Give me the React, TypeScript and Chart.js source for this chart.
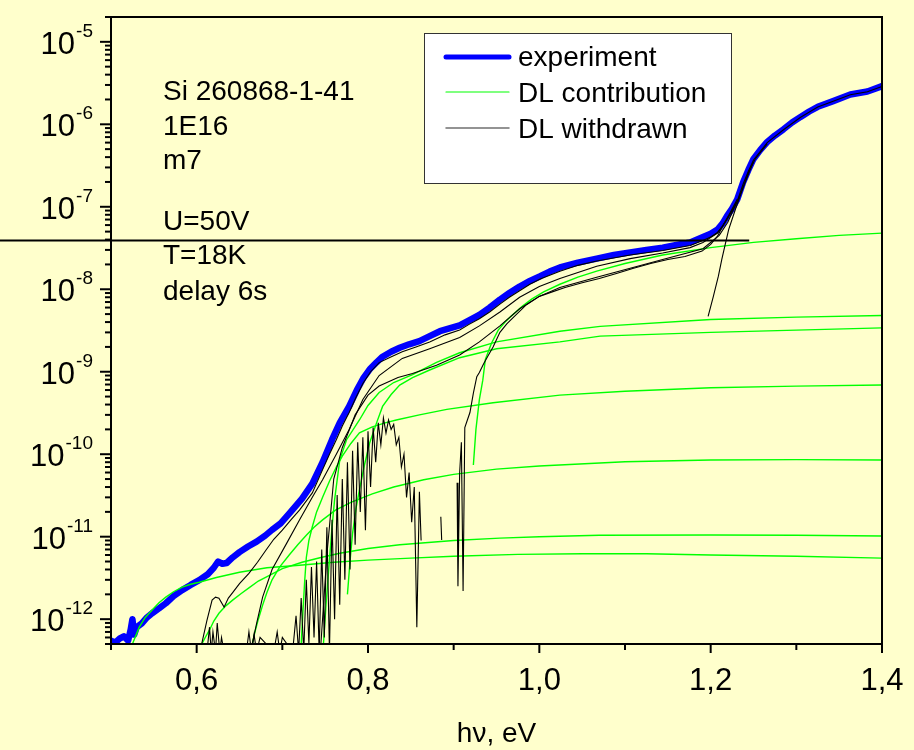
import { useEffect, useRef } from "react";
import { Chart, registerables } from "chart.js";

Chart.register(...registerables);

const FONT = "'Liberation Sans', Arial, Helvetica, sans-serif";
const BG = "#FFFFCC";

const X_MIN = 0.5;
const X_MAX = 1.4;
const Y_MIN = 5e-13;
const Y_MAX = 2e-5;

const xMajorTicks = [0.6, 0.8, 1.0, 1.2, 1.4];
const xMinorTicks = [0.5, 0.7, 0.9, 1.1, 1.3];
const xTickLabels = ["0,6", "0,8", "1,0", "1,2", "1,4"];
const yExponents = [-5, -6, -7, -8, -9, -10, -11, -12];
const xTitle = "h\u03BD, eV";

const notes = ["Si 260868-1-41", "1E16", "m7", "U=50V", "T=18K", "delay 6s"];
const legendLabels = ["experiment", "DL contribution", "DL withdrawn"];

// experiment
const expX = [0.500, 0.505, 0.510, 0.515, 0.520, 0.523, 0.525, 0.527, 0.530, 0.536, 0.542, 0.548, 0.556, 0.564, 0.573, 0.583, 0.593, 0.603, 0.613, 0.620, 0.625, 0.630, 0.635, 0.642, 0.650, 0.660, 0.670, 0.680, 0.688, 0.698, 0.708, 0.723, 0.735, 0.747, 0.758, 0.767, 0.778, 0.787, 0.795, 0.802, 0.810, 0.817, 0.827, 0.837, 0.848, 0.860, 0.872, 0.884, 0.895, 0.907, 0.918, 0.930, 0.942, 0.954, 0.965, 0.977, 0.989, 1.001, 1.012, 1.024, 1.045, 1.067, 1.087, 1.106, 1.125, 1.144, 1.160, 1.176, 1.191, 1.200, 1.208, 1.214, 1.219, 1.225, 1.231, 1.238, 1.244, 1.250, 1.258, 1.266, 1.275, 1.285, 1.295, 1.305, 1.315, 1.325, 1.343, 1.363, 1.383, 1.400];
const expY = [5.5e-13, 5.2e-13, 5.8e-13, 6.2e-13, 5.5e-13, 7.5e-13, 1.0e-12, 6.5e-13, 8.0e-13, 8.9e-13, 1.05e-12, 1.18e-12, 1.35e-12, 1.56e-12, 1.9e-12, 2.25e-12, 2.6e-12, 2.97e-12, 3.5e-12, 4.2e-12, 5.0e-12, 4.7e-12, 4.8e-12, 5.6e-12, 6.5e-12, 7.6e-12, 8.7e-12, 1.03e-11, 1.21e-11, 1.45e-11, 1.9e-11, 2.9e-11, 4.4e-11, 8.0e-11, 1.5e-10, 2.4e-10, 3.8e-10, 6.0e-10, 8.5e-10, 1.07e-9, 1.3e-9, 1.52e-9, 1.75e-9, 1.95e-9, 2.15e-9, 2.35e-9, 2.7e-9, 3.1e-9, 3.35e-9, 3.65e-9, 4.2e-9, 4.9e-9, 6.0e-9, 7.5e-9, 9.0e-9, 1.08e-8, 1.26e-8, 1.44e-8, 1.64e-8, 1.84e-8, 2.1e-8, 2.35e-8, 2.6e-8, 2.8e-8, 3.0e-8, 3.2e-8, 3.45e-8, 3.7e-8, 4.3e-8, 4.7e-8, 5.3e-8, 6.3e-8, 7.7e-8, 9.5e-8, 1.23e-7, 2.0e-7, 2.8e-7, 3.8e-7, 4.9e-7, 6.1e-7, 7.3e-7, 8.7e-7, 1.05e-6, 1.23e-6, 1.43e-6, 1.63e-6, 1.91e-6, 2.3e-6, 2.5e-6, 2.9e-6];

// DL contributions (green)
const g1X = [0.923, 0.926, 0.930, 0.934, 0.937, 0.944, 0.952, 0.960, 0.967, 0.980, 0.991, 1.005, 1.024, 1.045, 1.067, 1.100, 1.144, 1.200, 1.250, 1.300, 1.350, 1.400];
const g1Y = [7.4e-11, 2.0e-10, 4.6e-10, 7.9e-10, 1.41e-9, 2.2e-9, 3.2e-9, 4.0e-9, 4.7e-9, 6.2e-9, 7.6e-9, 9.3e-9, 1.15e-8, 1.4e-8, 1.66e-8, 2.05e-8, 2.6e-8, 3.2e-8, 3.7e-8, 4.1e-8, 4.5e-8, 4.8e-8];
const g2X = [0.748, 0.751, 0.755, 0.758, 0.761, 0.767, 0.775, 0.790, 0.800, 0.813, 0.830, 0.852, 0.880, 0.907, 0.950, 1.024, 1.071, 1.200, 1.300, 1.400];
const g2Y = [5e-13, 1.5e-12, 5.2e-12, 1.3e-11, 2.8e-11, 8.5e-11, 1.5e-10, 2.6e-10, 3.9e-10, 5.6e-10, 7.4e-10, 9.2e-10, 1.3e-9, 1.7e-9, 2.3e-9, 3.1e-9, 3.55e-9, 4.3e-9, 4.6e-9, 4.8e-9];
const g3X = [0.776, 0.779, 0.782, 0.786, 0.790, 0.796, 0.802, 0.810, 0.817, 0.827, 0.837, 0.852, 0.872, 0.907, 0.950, 1.024, 1.071, 1.200, 1.300, 1.400];
const g3Y = [2e-12, 5e-12, 1.1e-11, 2.2e-11, 3.7e-11, 7.5e-11, 1.38e-10, 2.4e-10, 3.8e-10, 5.3e-10, 6.9e-10, 8.5e-10, 1.05e-9, 1.48e-9, 1.9e-9, 2.3e-9, 2.7e-9, 3.0e-9, 3.2e-9, 3.4e-9];
const g4X = [0.722, 0.724, 0.726, 0.728, 0.731, 0.735, 0.740, 0.747, 0.755, 0.763, 0.770, 0.780, 0.790, 0.805, 0.820, 0.833, 0.860, 0.892, 0.946, 1.024, 1.100, 1.200, 1.300, 1.400];
const g4Y = [5e-13, 1.2e-12, 2.8e-12, 5.6e-12, 9e-12, 1.32e-11, 2.0e-11, 3.0e-11, 4.7e-11, 7.0e-11, 9.5e-11, 1.35e-10, 1.82e-10, 2.15e-10, 2.4e-10, 2.6e-10, 3.0e-10, 3.5e-10, 4.2e-10, 5.2e-10, 5.8e-10, 6.4e-10, 6.7e-10, 6.9e-10];
const g5X = [0.665, 0.668, 0.672, 0.677, 0.682, 0.688, 0.697, 0.708, 0.718, 0.728, 0.737, 0.747, 0.762, 0.780, 0.805, 0.830, 0.865, 0.900, 0.950, 1.000, 1.100, 1.200, 1.300, 1.400];
const g5Y = [5e-13, 7e-13, 1.0e-12, 1.48e-12, 2.1e-12, 3.0e-12, 4.3e-12, 6.0e-12, 8.0e-12, 1.04e-11, 1.3e-11, 1.6e-11, 2.1e-11, 2.6e-11, 3.3e-11, 4.0e-11, 4.9e-11, 5.7e-11, 6.6e-11, 7.2e-11, 8.1e-11, 8.5e-11, 8.6e-11, 8.5e-11];
const g6X = [0.606, 0.610, 0.615, 0.620, 0.626, 0.634, 0.642, 0.652, 0.661, 0.672, 0.685, 0.700, 0.723, 0.745, 0.767, 0.800, 0.837, 0.900, 0.954, 1.000, 1.070, 1.200, 1.300, 1.400];
const g6Y = [5e-13, 6e-13, 7.4e-13, 9.5e-13, 1.18e-12, 1.45e-12, 1.7e-12, 2.05e-12, 2.4e-12, 2.9e-12, 3.4e-12, 4.1e-12, 4.9e-12, 5.6e-12, 6.3e-12, 7.2e-12, 8.0e-12, 9.0e-12, 9.6e-12, 1.0e-11, 1.04e-11, 1.05e-11, 1.04e-11, 1.02e-11];
const g7X = [0.525, 0.533, 0.540, 0.548, 0.556, 0.564, 0.573, 0.583, 0.593, 0.603, 0.623, 0.650, 0.682, 0.720, 0.760, 0.800, 0.850, 0.900, 0.975, 1.050, 1.125, 1.200, 1.300, 1.400];
const g7Y = [5e-13, 8e-13, 1.05e-12, 1.29e-12, 1.58e-12, 1.85e-12, 2.15e-12, 2.45e-12, 2.65e-12, 2.8e-12, 3.2e-12, 3.7e-12, 4.2e-12, 4.5e-12, 4.9e-12, 5.2e-12, 5.5e-12, 5.8e-12, 6.1e-12, 6.2e-12, 6.2e-12, 6.0e-12, 5.8e-12, 5.5e-12];

// DL withdrawn (black)
const w1X = [0.606, 0.612, 0.618, 0.622, 0.626, 0.632, 0.637, 0.642, 0.650, 0.661, 0.671, 0.681, 0.690, 0.700, 0.710, 0.720, 0.735, 0.747, 0.755, 0.763, 0.770, 0.778, 0.786, 0.794, 0.803, 0.813, 0.826, 0.840, 0.856, 0.872, 0.890, 0.907, 0.918, 0.930, 0.942, 0.954, 0.965, 0.977, 0.989, 1.001, 1.024, 1.045, 1.067, 1.106, 1.144, 1.176, 1.191, 1.200, 1.208, 1.214, 1.219, 1.225, 1.231, 1.238, 1.244, 1.250, 1.266, 1.285, 1.305, 1.325, 1.343, 1.363, 1.383, 1.400];
const w1Y = [5.1e-13, 9.7e-13, 1.7e-12, 1.85e-12, 1.8e-12, 1.4e-12, 1.8e-12, 2.1e-12, 2.7e-12, 3.6e-12, 4.9e-12, 6.9e-12, 9.3e-12, 1.2e-11, 1.6e-11, 2.1e-11, 3.4e-11, 6.5e-11, 1.0e-10, 1.5e-10, 2.2e-10, 3.2e-10, 4.9e-10, 7.2e-10, 1.0e-9, 1.29e-9, 1.5e-9, 1.75e-9, 2.0e-9, 2.3e-9, 2.8e-9, 3.2e-9, 3.75e-9, 4.4e-9, 5.3e-9, 6.6e-9, 8.0e-9, 9.6e-9, 1.15e-8, 1.33e-8, 1.65e-8, 1.95e-8, 2.2e-8, 2.6e-8, 2.95e-8, 3.4e-8, 3.9e-8, 4.3e-8, 4.9e-8, 5.8e-8, 7.1e-8, 9.0e-8, 1.17e-7, 1.9e-7, 2.7e-7, 3.7e-7, 6.0e-7, 8.6e-7, 1.22e-6, 1.62e-6, 1.9e-6, 2.28e-6, 2.48e-6, 2.88e-6];
const w2X = [0.665, 0.670, 0.677, 0.688, 0.705, 0.720, 0.735, 0.747, 0.763, 0.778, 0.794, 0.813, 0.840, 0.872, 0.907, 0.930, 0.954, 0.977, 1.000, 1.024, 1.067, 1.106, 1.144, 1.176, 1.191, 1.208, 1.219, 1.231, 1.250];
const w2Y = [5.1e-13, 8.9e-13, 1.85e-12, 4.0e-12, 8.3e-12, 1.59e-11, 3.0e-11, 4.9e-11, 1.0e-10, 2.0e-10, 4.6e-10, 9.0e-10, 1.45e-9, 1.9e-9, 2.6e-9, 3.6e-9, 5.3e-9, 8.0e-9, 1.08e-8, 1.35e-8, 1.9e-8, 2.35e-8, 2.75e-8, 3.2e-8, 3.7e-8, 4.8e-8, 7.0e-8, 1.15e-7, 3.5e-7];
const w3X = [0.745, 0.752, 0.760, 0.770, 0.785, 0.800, 0.813, 0.835, 0.852, 0.880, 0.907, 0.930, 0.954, 0.977, 1.000, 1.024, 1.067, 1.144, 1.191, 1.210, 1.220, 1.230];
const w3Y = [5e-13, 6e-12, 5e-11, 1.2e-10, 3.0e-10, 5.2e-10, 6.7e-10, 8.5e-10, 9.5e-10, 1.2e-9, 1.6e-9, 2.3e-9, 3.6e-9, 5.8e-9, 8.2e-9, 1.05e-8, 1.4e-8, 2.3e-8, 3.1e-8, 4.5e-8, 6.5e-8, 1.1e-7];
const w4X = [0.612, 0.615, 0.617, 0.619, 0.622, 0.624, 0.627, 0.629, 0.632, 0.658, 0.661, 0.664, 0.667, 0.670, 0.674, 0.690, 0.694, 0.697, 0.700, 0.712, 0.716, 0.719, 0.722, 0.725, 0.728, 0.731, 0.734, 0.737, 0.740, 0.743, 0.746, 0.749, 0.752, 0.755, 0.758, 0.761, 0.764, 0.767, 0.770, 0.773, 0.776, 0.779, 0.782, 0.785, 0.788, 0.791, 0.794, 0.797, 0.800, 0.803, 0.806, 0.809, 0.812, 0.815, 0.818, 0.821, 0.824, 0.827, 0.830, 0.833, 0.836, 0.839, 0.842, 0.845, 0.848, 0.851, 0.854, 0.857, 0.860, 0.862, 0.870, 0.885, 0.886, 0.890, 0.904, 0.905, 0.907, 0.909, 0.911, 0.913, 0.916, 0.919, 0.923, 0.927, 0.930, 0.935, 0.940, 0.946, 0.954, 0.962, 0.970, 0.985, 1.000, 1.015, 1.030, 1.050, 1.070, 1.090, 1.110, 1.130, 1.150, 1.170, 1.190, 1.200, 1.208, 1.215, 1.223, 1.231];
const w4Y = [4e-13, 8e-13, 4e-13, 7e-13, 4e-13, 9e-13, 4e-13, 6e-13, 4e-13, 4e-13, 7e-13, 4e-13, 6.5e-13, 4e-13, 6e-13, 4e-13, 7e-13, 4e-13, 6e-13, 4e-13, 1.1e-12, 4e-13, 1.8e-12, 4e-13, 3e-12, 5e-13, 4.3e-12, 6e-13, 5e-12, 4e-13, 7e-12, 6e-13, 1.3e-11, 4e-13, 1.6e-11, 1e-12, 3.2e-11, 1.5e-12, 5e-11, 3e-12, 8e-11, 4e-12, 1.1e-10, 8e-12, 1.4e-10, 2e-11, 1.6e-10, 1.2e-11, 1.9e-10, 4e-11, 2.1e-10, 8e-11, 2.4e-10, 1.3e-10, 2.75e-10, 1.8e-10, 2.6e-10, 2.0e-10, 2.3e-10, 1.3e-10, 1.6e-10, 7e-11, 1.0e-10, 3e-11, 6e-11, 1.5e-11, 4e-11, 8e-13, 3.5e-11, 9e-12, null, 1.74e-11, 9.1e-12, null, 4.5e-11, 2.5e-12, 6e-11, 1.4e-10, 2.2e-12, 2.1e-10, 2.6e-10, 3.2e-10, 5.5e-10, 8.7e-10, 9.8e-10, 1.25e-9, 1.55e-9, 2.0e-9, 3.0e-9, 3.8e-9, 4.6e-9, 6.5e-9, 8.2e-9, 9.3e-9, 1.05e-8, 1.2e-8, 1.35e-8, 1.55e-8, 1.8e-8, 2.05e-8, 2.3e-8, 2.5e-8, 2.9e-8, 3.5e-8, 4.4e-8, 6.1e-8, 8.6e-8, 1.23e-7];
const w5X = [1.197, 1.203, 1.209, 1.213, 1.217, 1.221, 1.229, 1.236, 1.244, 1.252, 1.266];
const w5Y = [4.7e-9, 8.1e-9, 1.44e-8, 2.3e-8, 3.5e-8, 5.3e-8, 9.4e-8, 1.5e-7, 2.6e-7, 3.8e-7, 5.8e-7];

// horizontal marker line
const markX = [0.37, 1.245];
const markY = [3.9e-8, 3.9e-8];

const pts = (xs: number[], ys: (number | null)[]) => xs.map((x, i) => ({ x, y: ys[i] }));

const decorPlugin = {
  id: "decor",
  beforeDraw(chart: any) {
    const ctx = chart.ctx;
    ctx.save();
    ctx.fillStyle = BG;
    ctx.fillRect(0, 0, chart.width, chart.height);
    ctx.restore();
  },
  afterDraw(chart: any) {
    const ctx = chart.ctx;
    const { left, right, top, bottom } = chart.chartArea;
    const xs = chart.scales.x;
    const ys = chart.scales.y;
    ctx.save();
    ctx.strokeStyle = "#000";
    ctx.fillStyle = "#000";
    // frame
    ctx.lineWidth = 2;
    ctx.strokeRect(left, top, right - left, bottom - top);

    // y ticks
    for (let e = -13; e <= -5; e++) {
      for (let m = 1; m <= 9; m++) {
        const v = m * Math.pow(10, e);
        if (v < Y_MIN * 0.999 || v > Y_MAX * 1.001) continue;
        const py = ys.getPixelForValue(v);
        const len = m === 1 ? 11 : 6;
        ctx.lineWidth = 2;
        ctx.beginPath();
        ctx.moveTo(left - len, py);
        ctx.lineTo(left, py);
        ctx.stroke();
      }
    }
    // y labels
    for (const e of yExponents) {
      const py = ys.getPixelForValue(Math.pow(10, e));
      const sup = String(e);
      ctx.font = `19px ${FONT}`;
      const supW = ctx.measureText(sup).width;
      const x0 = left - 19 - supW;
      ctx.textAlign = "left";
      ctx.textBaseline = "alphabetic";
      ctx.fillText(sup, x0 + 1, py - 5);
      ctx.font = `31px ${FONT}`;
      ctx.textAlign = "right";
      ctx.fillText("10", x0, py + 12);
    }

    // x ticks
    ctx.lineWidth = 2;
    for (const t of xMajorTicks) {
      const px = xs.getPixelForValue(t);
      ctx.beginPath();
      ctx.moveTo(px, bottom);
      ctx.lineTo(px, bottom + 9);
      ctx.stroke();
    }
    for (const t of xMinorTicks) {
      const px = xs.getPixelForValue(t);
      ctx.beginPath();
      ctx.moveTo(px, bottom);
      ctx.lineTo(px, bottom + 6);
      ctx.stroke();
    }
    ctx.font = `31px ${FONT}`;
    ctx.textAlign = "center";
    ctx.textBaseline = "alphabetic";
    xMajorTicks.forEach((t, i) => {
      ctx.fillText(xTickLabels[i], xs.getPixelForValue(t), bottom + 46);
    });
    ctx.font = `28px ${FONT}`;
    ctx.fillText(xTitle, (left + right) / 2, bottom + 98);

    // notes
    ctx.font = `28px ${FONT}`;
    ctx.textAlign = "left";
    const noteBase = [100, 135, 169, 230, 264, 300];
    notes.forEach((t, i) => ctx.fillText(t, 163, noteBase[i]));

    // legend box
    const bx = 424, by = 33, bw = 307, bh = 150;
    ctx.fillStyle = "#FFFFFF";
    ctx.fillRect(bx, by, bw, bh);
    ctx.strokeStyle = "#333";
    ctx.lineWidth = 1;
    ctx.strokeRect(bx + 0.5, by + 0.5, bw, bh);
    const rows = [
      { y: 57, color: "#0000FF", w: 5, base: 66 },
      { y: 92, color: "#00FF00", w: 1.2, base: 102 },
      { y: 128, color: "#707070", w: 1.5, base: 138 },
    ];
    rows.forEach((r, i) => {
      ctx.strokeStyle = r.color;
      ctx.lineWidth = r.w;
      ctx.lineCap = "round";
      ctx.beginPath();
      ctx.moveTo(446, r.y);
      ctx.lineTo(509, r.y);
      ctx.stroke();
      ctx.fillStyle = "#000";
      ctx.font = `28px ${FONT}`;
      ctx.fillText(legendLabels[i], 518, r.base);
    });
    ctx.restore();
  },
};

export default function App() {
  const ref = useRef<HTMLCanvasElement | null>(null);
  useEffect(() => {
    if (!ref.current) return;
    const green = (xs: number[], ys: number[]) => ({
      data: pts(xs, ys),
      borderColor: "#00FF00",
      borderWidth: 1.4,
      order: 5,
    });
    const black = (xs: number[], ys: (number | null)[]) => ({
      data: pts(xs, ys),
      borderColor: "#000000",
      borderWidth: 1.1,
      order: 2,
    });
    const chart = new Chart(ref.current, {
      type: "line",
      data: {
        datasets: [
          { data: pts(markX, markY), borderColor: "#000", borderWidth: 2.2, clip: false, order: 0 } as any,
          black(w1X, w1Y),
          black(w2X, w2Y),
          black(w3X, w3Y),
          black(w4X, w4Y),
          black(w5X, w5Y),
          green(g1X, g1Y),
          green(g2X, g2Y),
          green(g3X, g3Y),
          green(g4X, g4Y),
          green(g5X, g5Y),
          green(g6X, g6Y),
          green(g7X, g7Y),
          {
            data: pts(expX, expY),
            borderColor: "#0000FF",
            borderWidth: 6.5,
            borderJoinStyle: "round",
            borderCapStyle: "round",
            order: 10,
          } as any,
        ],
      },
      options: {
        animation: false,
        responsive: false,
        events: [],
        layout: { padding: { left: 111, right: 32, top: 17, bottom: 106 } },
        elements: { point: { radius: 0 }, line: { tension: 0 } },
        plugins: { legend: { display: false }, tooltip: { enabled: false } },
        scales: {
          x: { type: "linear", min: X_MIN, max: X_MAX, display: false },
          y: { type: "logarithmic", min: Y_MIN, max: Y_MAX, display: false },
        },
      },
      plugins: [decorPlugin],
    });
    return () => chart.destroy();
  }, []);
  return (
    <div style={{ position: "fixed", left: 0, top: 0, width: 914, height: 750, background: BG }}>
      <canvas ref={ref} width={914} height={750} style={{ display: "block", width: 914, height: 750 }} />
    </div>
  );
}
